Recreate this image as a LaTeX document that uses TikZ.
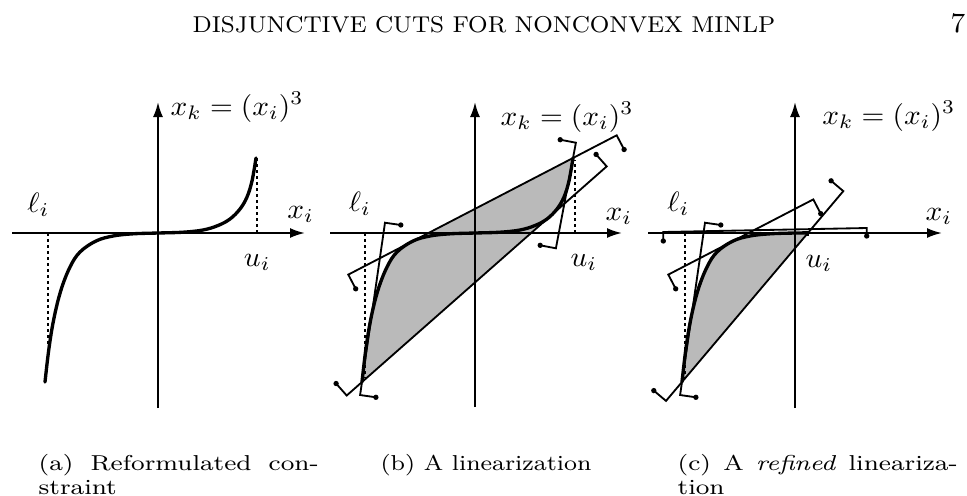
\documentclass[tikz,border=0pt]{standalone}
\usetikzlibrary{arrows.meta}
\newcommand{\vsq}[1]{\scalebox{0.88}[0.84]{#1}}
\newcommand{\capsq}[1]{\scalebox{1}[0.84]{#1}}
\newcommand{\capbsq}[1]{\scalebox{0.95}[0.84]{#1}}
\newcommand{\headsq}[1]{\scalebox{0.887}[0.86]{#1}}
\newcommand{\cutline}[4]{%
  \draw[cut] #3 -- #1 -- #2 -- #4;
  \fill #3 circle (0.8pt) #4 circle (0.8pt);}
\tikzset{
  axis/.style={line width=0.6pt, -{Latex[length=4.5pt,width=3pt]}},
  curve/.style={line width=1pt, line cap=round},
  cut/.style={line width=0.55pt, line join=miter},
  bound/.style={line width=0.8pt, dash pattern=on 0.9pt off 0.9pt},
  shade/.style={fill=black!27},
  lbl/.style={inner sep=0pt, anchor=base west},
}
\begin{document}
\begin{tikzpicture}[x=0.3pt,y=-0.3pt]
\useasboundingbox (0,0) rectangle (967,495);
% header
\node[lbl] (head) at (192,32.7) {\headsq{\fontsize{8}{10}\selectfont DISJUNCTIVE CUTS FOR NONCONVEX MINLP}};
\node[lbl, anchor=base east] (page) at (966,32) {\vsq{\fontsize{10}{12}\selectfont 7}};

% ---------------- panel (a)
\begin{scope}[shift={(158,233)}]
  \draw[axis] (-146,0) -- (147,0);
  \draw[axis] (0,175) -- (0,-131);
  \draw[bound] (-110,0) -- (-110,112);
  \draw[bound] (99,0) -- (99,-75);
  \draw[curve] plot[smooth,tension=0.6] coordinates {(-113,149) (-109,115) (-104,85) (-97,57) (-88,34) (-78,19) (-62,8) (-45,3) (-25,0.8) (0,0) (25,-0.8) (45,-3) (60,-7.5) (72,-14) (82,-24) (89,-36) (94,-52) (98,-75)};
\end{scope}
\node[lbl] (xka) at (170,115) {\vsq{$x_k = (x_i)^3$}};
\node[lbl] (la) at (26.7,212) {\vsq{$\ell_i$}};
\node[lbl] (xa) at (286.7,218.3) {\vsq{$x_i$}};
\node[lbl] (ua) at (243.3,266.7) {\vsq{$u_i$}};

% ---------------- panel (b)
\begin{scope}[shift={(475,233)}]
  \fill[shade] (-113,149) -- (-62,8) -- (98,-75) -- (72,-14) -- cycle;
  \fill[shade] plot[smooth,tension=0.6] coordinates {(-113,149) (-109,115) (-104,85) (-97,57) (-88,34) (-78,19) (-62,8) (-45,3) (-25,0.8) (0,0) (25,-0.8) (45,-3) (60,-7.5) (72,-14) (82,-24) (89,-36) (94,-52) (98,-75)} -- cycle;
  \draw[axis] (-145,0) -- (147,0);
  \draw[axis] (0,174) -- (0,-131);
  \draw[bound] (-110,0) -- (-110,145);
  \draw[bound] (100,0) -- (100,-73);
  \cutline{(-126.7,41.6)}{(141.7,-97.7)}{(-119.3,55.8)}{(149.1,-83.5)}
  \cutline{(-128.3,162.5)}{(131.7,-66.6)}{(-138.9,150.5)}{(121.1,-78.6)}
  \cutline{(-90,-10.3)}{(-114.9,162)}{(-74.2,-8)}{(-99.1,164.3)}
  \cutline{(100.9,-90.3)}{(80.9,15.3)}{(85.2,-93.3)}{(65.2,12.3)}
  \draw[curve] plot[smooth,tension=0.6] coordinates {(-113,149) (-109,115) (-104,85) (-97,57) (-88,34) (-78,19) (-62,8) (-45,3) (-25,0.8) (0,0) (25,-0.8) (45,-3) (60,-7.5) (72,-14) (82,-24) (89,-36) (94,-52) (98,-75)};
\end{scope}
\node[lbl] (xkb) at (500,125) {\vsq{$x_k = (x_i)^3$}};
\node[lbl] (lb) at (348.3,211.7) {\vsq{$\ell_i$}};
\node[lbl] (xb) at (605,220) {\vsq{$x_i$}};
\node[lbl] (ub) at (570,266) {\vsq{$u_i$}};

% ---------------- panel (c)
\begin{scope}[shift={(795,233)}]
  \fill[shade] plot[smooth,tension=0.6] coordinates {(-113,149) (-109,115) (-104,85) (-97,57) (-88,34) (-78,19) (-62,8) (-45,3) (-25,0.8) (0,0)} -- (13,0) -- cycle;
  \draw[axis] (-147,0) -- (147,0);
  \draw[axis] (0,175) -- (0,-131);
  \draw[bound] (-110,0) -- (-110,145);
  \draw[bound] (13,0) -- (13,5);
  \cutline{(-126.7,41.6)}{(18.3,-33.6)}{(-119.3,55.8)}{(25.7,-19.4)}
  \cutline{(-129,167.9)}{(48.3,-41.9)}{(-141.2,157.6)}{(36.1,-52.2)}
  \cutline{(-90,-10.3)}{(-114.9,162)}{(-74.2,-8)}{(-99.1,164.3)}
  \cutline{(-131.7,-1)}{(71.7,-5)}{(-131.7,8)}{(71.7,3)}
  \draw[curve] plot[smooth,tension=0.6] coordinates {(-113,149) (-109,115) (-104,85) (-97,57) (-88,34) (-78,19) (-62,8) (-45,3) (-25,0.8) (0,0) (13,-0.1)};
\end{scope}
\node[lbl] (xkc) at (821.7,124) {\vsq{$x_k = (x_i)^3$}};
\node[lbl] (lc) at (666.7,211.7) {\vsq{$\ell_i$}};
\node[lbl] (xc) at (925,220) {\vsq{$x_i$}};
\node[lbl] (uc) at (805,267) {\vsq{$u_i$}};

% captions
\node[lbl] (capa) at (38,470) {\capsq{\parbox[t]{84pt}{\fontsize{7.7}{8.9}\selectfont (a) Reformulated con-\linebreak straint}}};
\node[lbl] (capb) at (380,470) {\capbsq{\parbox[t]{89pt}{\fontsize{7.7}{8.9}\selectfont (b) A linearization}}};
\node[lbl] (capc) at (677,470) {\capsq{\parbox[t]{84pt}{\fontsize{7.7}{8.9}\selectfont (c) A \emph{refined} lineariza-\linebreak tion}}};
\end{tikzpicture}
\end{document}
